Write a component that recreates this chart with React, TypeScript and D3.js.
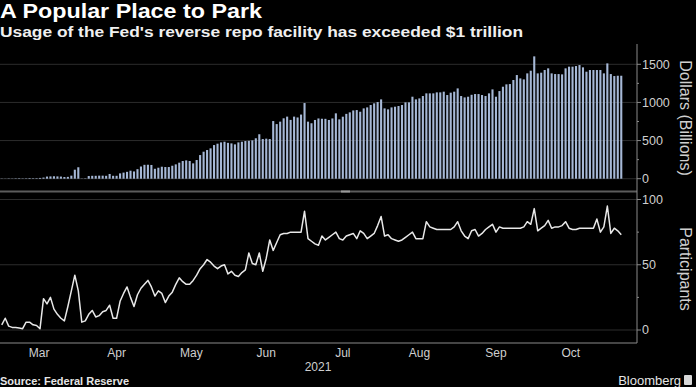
import React from "react";
import * as d3 from "d3";

// month labels on the x axis
const monthLabels = ["Mar", "Apr", "May", "Jun", "Jul", "Aug", "Sep", "Oct"];

// reverse repo usage, $ billions, one value per weekday
const usdMar = [3, 2, 4, 3, 5, 6, 4, 5, 8, 6, 7, 10, 15, 28, 30, 32, 30, 28, 22, 24, 40, 118, 150];
const usdApr = [3, 5, 35, 38, 38, 40, 40, 38, 62, 38, 38, 70, 80, 90, 105, 95, 125, 160, 182, 183, 180, 130];
const usdMay = [144, 157, 153, 153, 170, 188, 210, 232, 240, 232, 201, 245, 310, 354, 376, 398, 441, 459, 476, 485, 470];
const usdJun = [463, 450, 476, 485, 494, 497, 503, 530, 583, 520, 525, 520, 756, 716, 748, 792, 814, 771, 814, 803, 841, 992];
const usdJul = [748, 727, 770, 790, 786, 785, 770, 790, 857, 778, 813, 850, 870, 895, 900, 878, 922, 935, 966, 988, 1005, 1040];
const usdAug = [922, 909, 935, 944, 953, 966, 1001, 1001, 1075, 1040, 1053, 1084, 1119, 1119, 1119, 1132, 1132, 1141, 1097, 1128, 1141, 1184];
const usdSep = [1084, 1066, 1075, 1100, 1110, 1110, 1097, 1084, 1119, 1171, 1075, 1149, 1206, 1237, 1241, 1294, 1359, 1315, 1302, 1381, 1416, 1604];
const usdOct = [1381, 1390, 1425, 1447, 1381, 1372, 1372, 1368, 1447, 1469, 1469, 1477, 1490, 1460, 1403, 1425, 1425, 1425, 1425, 1381, 1512];
const usdNov = [1372, 1346, 1350, 1350];

// number of participants, same days
const partMar = [4, 9, 3, 2, 2, 1.5, 1, 6, 6, 4, 3.5, 1, 24, 20, 25, 16, 12, 9, 7, 18, 30, 42, 30];
const partApr = [6, 7, 12, 15, 10, 11, 14, 15, 19, 9, 9, 22, 28, 33, 25, 18, 27, 32, 35, 38, 33, 26];
const partMay = [30, 28, 21, 26, 29, 35, 40, 37, 35, 35, 38, 42, 47, 50, 54, 52, 49, 47, 49, 50, 43];
const partJun = [45, 42, 41, 44, 46, 59, 51, 50, 59, 45, 55, 69, 61, 67, 73, 74, 74, 75, 75, 75, 75, 91];
const partJul = [70, 68, 66, 65, 72, 69, 71, 73, 75, 70, 69, 72, 73, 74, 70, 76, 74, 70, 72, 74, 80, 87];
const partAug = [72, 73, 70, 69, 68, 69, 71, 73, 75, 70, 70, 70, 83, 79, 78, 77, 77, 77, 77, 77, 79, 83];
const partSep = [76, 72, 70, 76, 77, 72, 74, 77, 79, 81, 75, 79, 78, 78, 78, 78, 78, 78, 79, 83, 81, 93];
const partOct = [76, 78, 80, 84, 78, 79, 79, 80, 83, 78, 77, 77, 78, 78, 78, 78, 78, 85, 75, 79, 95];
const partNov = [74, 78, 76, 73];

const usdTicks = [0, 500, 1000, 1500];
const partTicks = [0, 50, 100];

const usdMonths = [usdMar, usdApr, usdMay, usdJun, usdJul, usdAug, usdSep, usdOct, usdNov];
const partMonths = [partMar, partApr, partMay, partJun, partJul, partAug, partSep, partOct, partNov];

const W = 696;
const H = 387;
const axisX = 637;
const grid = "#2c2c2c";
const axisCol = "#8a8a8a";
const labelCol = "#cfcfcf";
const font = "'Liberation Sans', Arial, sans-serif";

export default function App() {
  const usd = d3.merge<number>(usdMonths);
  const part = d3.merge<number>(partMonths);
  const idx = d3.range(usd.length);

  const x = d3.scaleBand<number>().domain(idx).range([0, 623]).paddingInner(0.4).paddingOuter(0.2);
  const cx = (i: number) => (x(i) as number) + x.bandwidth() / 2;

  const yUsd = d3.scaleLinear().domain([0, 1500]).range([178.7, 64.3]);
  const yPart = d3.scaleLinear().domain([0, 100]).range([330, 199.5]);

  // last weekday of each month -> gridline
  const ends = d3.cumsum(usdMonths.map((m) => m.length)).slice(0, monthLabels.length).map((c) => cx(c - 1));
  const starts = [0, ...ends.slice(0, -1)];

  const linePath =
    d3
      .line<number>()
      .x((i) => cx(i))
      .y((i) => yPart(part[i]))(idx) || "";

  return (
    <svg width={W} height={H} style={{ position: "absolute", left: 0, top: 0 }} fontFamily={font}>
      <rect width={W} height={H} fill="#000" />

      <text x={0} y={18} fill="#fff" fontSize={20} fontWeight="bold" textLength={262} lengthAdjust="spacingAndGlyphs">
        A Popular Place to Park
      </text>
      <text x={0} y={37} fill="#f0f0f0" fontSize={14} fontWeight="bold" textLength={523} lengthAdjust="spacingAndGlyphs">
        Usage of the Fed's reverse repo facility has exceeded $1 trillion
      </text>

      {/* gridlines */}
      {usdTicks.map((t) => (
        <line key={"gu" + t} x1={0} x2={axisX} y1={yUsd(t)} y2={yUsd(t)} stroke={grid} />
      ))}
      {partTicks.map((t) => (
        <line key={"gp" + t} x1={0} x2={axisX} y1={yPart(t)} y2={yPart(t)} stroke={grid} />
      ))}
      {ends.map((e, k) => (
        <g key={"gv" + k}>
          <line x1={e} x2={e} y1={44} y2={190} stroke={grid} />
          <line x1={e} x2={e} y1={195} y2={343} stroke={grid} />
        </g>
      ))}

      {/* bars */}
      {idx.map((i) => (
        <rect
          key={i}
          x={x(i)}
          width={x.bandwidth()}
          y={yUsd(usd[i])}
          height={yUsd(0) - yUsd(usd[i])}
          fill="#a6b8d6"
        />
      ))}

      {/* participants line */}
      <path d={linePath} fill="none" stroke="#e8e8e8" strokeWidth={1.5} strokeLinejoin="round" />

      {/* panel separator */}
      <line x1={0} x2={axisX} y1={191.5} y2={191.5} stroke="#5c5c5c" strokeWidth={2} />
      <line x1={341} x2={350} y1={191.5} y2={191.5} stroke="#9a9a9a" strokeWidth={2} />

      {/* axes */}
      <line x1={axisX} x2={axisX} y1={44} y2={343} stroke={axisCol} />
      <line x1={0} x2={axisX} y1={343} y2={343} stroke={axisCol} />

      {d3.range(0, 1501, 250).map((t) => (
        <line key={"tu" + t} x1={axisX} x2={axisX + (t % 500 === 0 ? 4 : 2)} y1={yUsd(t)} y2={yUsd(t)} stroke={axisCol} />
      ))}
      {usdTicks.map((t) => (
        <text key={"lu" + t} x={642} y={yUsd(t)} dy="0.35em" fill={labelCol} fontSize={12.5}>
          {t}
        </text>
      ))}
      {d3.range(0, 101, 25).map((t) => (
        <line key={"tp" + t} x1={axisX} x2={axisX + (t % 50 === 0 ? 4 : 2)} y1={yPart(t)} y2={yPart(t)} stroke={axisCol} />
      ))}
      {partTicks.map((t) => (
        <text key={"lp" + t} x={642} y={yPart(t)} dy="0.35em" fill={labelCol} fontSize={12.5}>
          {t}
        </text>
      ))}

      <text transform="translate(680,118) rotate(90)" textAnchor="middle" fill={labelCol} fontSize={16}>
        Dollars (Billions)
      </text>
      <text transform="translate(680,269) rotate(90)" textAnchor="middle" fill={labelCol} fontSize={16}>
        Participants
      </text>

      {/* x axis */}
      {ends.map((e, k) => (
        <line key={"tx" + k} x1={e} x2={e} y1={343} y2={347} stroke={axisCol} />
      ))}
      {monthLabels.map((m, k) => (
        <text key={m} x={(starts[k] + ends[k]) / 2} y={356.5} textAnchor="middle" fill={labelCol} fontSize={12}>
          {m}
        </text>
      ))}
      <text x={318} y={370.5} textAnchor="middle" fill={labelCol} fontSize={12}>
        2021
      </text>

      <text x={0} y={385} fill="#e6e6e6" fontSize={11} fontWeight="bold">
        Source: Federal Reserve
      </text>
      <text x={681} y={385} textAnchor="end" fill="#e6e6e6" fontSize={13}>
        Bloomberg
      </text>
      <rect x={684} y={375} width={8} height={10} rx={1} fill="#d8d8d8" />
    </svg>
  );
}
